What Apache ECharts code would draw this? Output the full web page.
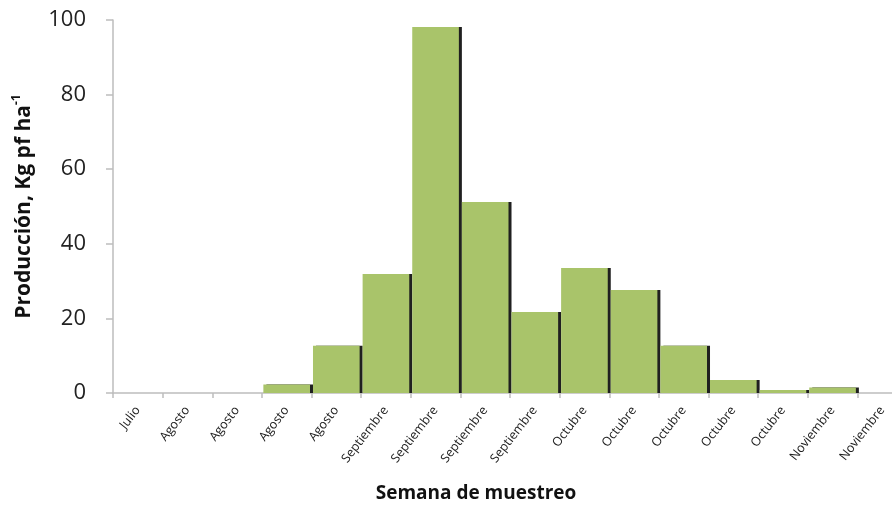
<!DOCTYPE html>
<html>
<head>
<meta charset="utf-8">
<script src="https://cdn.jsdelivr.net/npm/echarts@6/dist/echarts.min.js"></script>
<style>html,body{margin:0;padding:0;background:#fff}#c{width:892px;height:508px}</style>
</head>
<body>
<div id="c"></div>
<script>
const categories = ['Julio','Agosto','Agosto','Agosto','Agosto','Septiembre','Septiembre','Septiembre','Septiembre','Octubre','Octubre','Octubre','Octubre','Octubre','Noviembre','Noviembre'];
const production = [0, 0, 0, 2.3, 12.7, 31.9, 98.1, 51.2, 21.7, 33.5, 27.6, 12.7, 3.5, 0.8, 1.5, 0];
const yTicks = { min: 0, max: 100, interval: 20 };
const yTitle = 'Producción, Kg pf ha';
const xTitle = 'Semana de muestreo';

const FONT = 'Open Sans';
const chart = echarts.init(document.getElementById('c'));
chart.setOption({
  backgroundColor: '#fff',
  animation: false,
  title: {
    text: xTitle,
    left: 471, top: 479,
    textAlign: 'center',
    textStyle: { fontFamily: FONT, fontSize: 19, fontWeight: 'bold', color: '#111' }
  },
  grid: { left: 113, top: 20, width: 794, height: 373, containLabel: false, outerBoundsMode: 'none' },
  xAxis: {
    type: 'category',
    data: categories,
    boundaryGap: true,
    axisLine: { lineStyle: { color: '#bdbdbd', width: 1.5 } },
    axisTick: { show: true, alignWithLabel: false, length: 5, lineStyle: { color: '#bdbdbd', width: 1.5 } },
    axisLabel: { rotate: 52, interval: 0, margin: 15, fontFamily: FONT, fontSize: 12.5, color: '#222', hideOverlap: false },
    splitLine: { show: false }
  },
  yAxis: {
    type: 'value',
    min: yTicks.min, max: yTicks.max, interval: yTicks.interval,
    axisLine: { show: true, lineStyle: { color: '#bdbdbd', width: 1.5 } },
    axisTick: { show: true, length: 7, lineStyle: { color: '#bdbdbd', width: 1.5 } },
    axisLabel: { fontFamily: FONT, fontSize: 22, color: '#222', margin: 27 },
    splitLine: { show: false },
    name: '{a|' + yTitle + '}{s|-1}',
    nameLocation: 'middle',
    nameGap: 76,
    nameRotate: 90,
    nameTextStyle: {
      fontFamily: FONT,
      rich: {
        a: { fontFamily: FONT, fontSize: 21, fontWeight: 'bold', color: '#111', lineHeight: 26 },
        s: { fontFamily: FONT, fontSize: 12, fontWeight: 'bold', color: '#111', verticalAlign: 'top', lineHeight: 26 }
      }
    }
  },
  series: [{
    type: 'bar',
    data: production,
    barCategoryGap: '6%',
    itemStyle: {
      color: '#a9c46a',
      shadowColor: 'rgba(20,20,20,0.95)',
      shadowOffsetX: 3,
      shadowOffsetY: 0,
      shadowBlur: 0
    }
  }]
});
</script>
</body>
</html>
